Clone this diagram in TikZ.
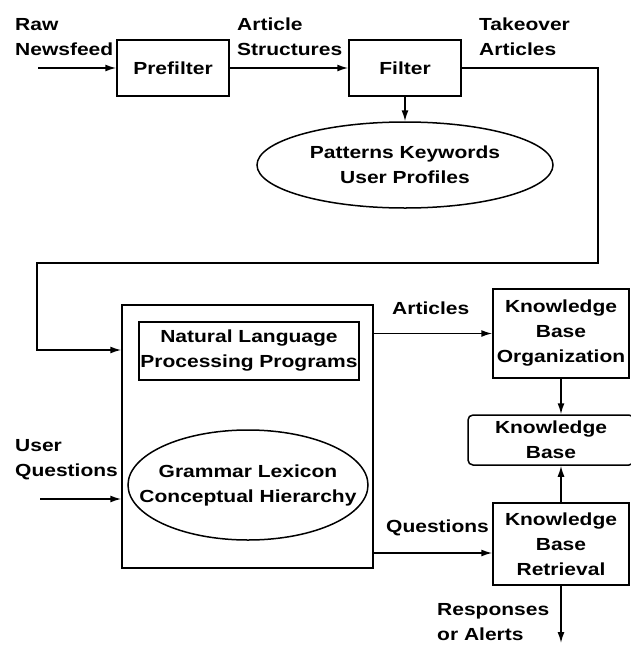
\documentclass[tikz,border=0pt]{standalone}
\usepackage{fontspec}
\setmainfont{Liberation Sans}[FakeStretch=1.2]
\usetikzlibrary{shapes.geometric,arrows.meta}

\tikzset{
    blk/.style={draw, line width=1.5pt, align=center, inner sep=0pt},
    blob/.style={draw, ellipse, line width=1.5pt, align=center, inner sep=-40pt},
    lbl/.style={anchor=west, align=left, inner sep=0pt},
    flow/.style={line width=1.5pt, -{Latex[length=11pt,width=7pt]}}
}

\begin{document}
\begin{tikzpicture}[x=1pt, y=-1pt, font=\fontsize{17.5}{25}\selectfont\bfseries]
        \useasboundingbox (0,0) rectangle (631,646);
        % filter stage
        \node[blk, minimum width=112, minimum height=56] (prefilter) at (173,68) {Prefilter};
        \node[blk, minimum width=112, minimum height=56] (filter) at (405,68) {Filter};
        \node[blob, minimum width=296, minimum height=86] (patterns) at (405,165) {Patterns Keywords\\User Profiles};
        % language processing
        \node[blk, minimum width=251, minimum height=263] (nlbox) at (247.5,436.5) {};
        \node[blk, minimum width=220, minimum height=58] (nlp) at (249,351) {Natural Language\\Processing Programs};
        \node[blob, minimum width=240, minimum height=110] (grammar) at (248,485) {Grammar Lexicon\\Conceptual Hierarchy};
        % knowledge base
        \node[blk, minimum width=136, minimum height=89] (kbo) at (561,333.5) {Knowledge\\Base\\Organization};
        \node[blk, rounded corners=5pt, minimum width=166, minimum height=50] (kb) at (551,440) {Knowledge\\Base};
        \node[blk, minimum width=136, minimum height=82] (kbr) at (561,544) {Knowledge\\Base\\Retrieval};
        % free ends
        \coordinate (feed) at (38,68);
        \coordinate (turn) at (598,263);
        \coordinate (back) at (37,350);
        \coordinate (ask) at (40,499);
        \coordinate (out) at (561,643);
        % connectors
        \draw[flow] (feed) -- (prefilter);
        \draw[flow] (prefilter) -- (filter);
        \draw[flow] (filter) -- (patterns);
        \draw[flow] (filter.east) -| (turn) -| (back) -- (back -| nlbox.west);
        \draw[flow] (ask) -- (ask -| nlbox.west);
        \draw[flow] (nlbox.east |- kbo.west) -- (kbo.west);
        \draw[flow] ([yshift=-9pt]kbr.west -| nlbox.east) -- ([yshift=-9pt]kbr.west);
        \draw[flow] (kbo.south) -- (kbo.south |- kb.north);
        \draw[flow] (kbr.north) -- (kbr.north |- kb.south);
        \draw[flow] (kbr.south) -- (out);
        % labels
        \node[lbl] (rawlbl) at (15,37) {Raw\\Newsfeed};
        \node[lbl] (artlbl) at (237,37) {Article\\Structures};
        \node[lbl] (takelbl) at (479,37) {Takeover\\Articles};
        \node[lbl] (nplbl) at (392,308) {Articles};
        \node[lbl] (userlbl) at (15,460) {User\\Questions};
        \node[lbl] (qlbl) at (386,528) {Questions};
        \node[lbl] (resplbl) at (437,622) {Responses\\or Alerts};
\end{tikzpicture}
\end{document}
